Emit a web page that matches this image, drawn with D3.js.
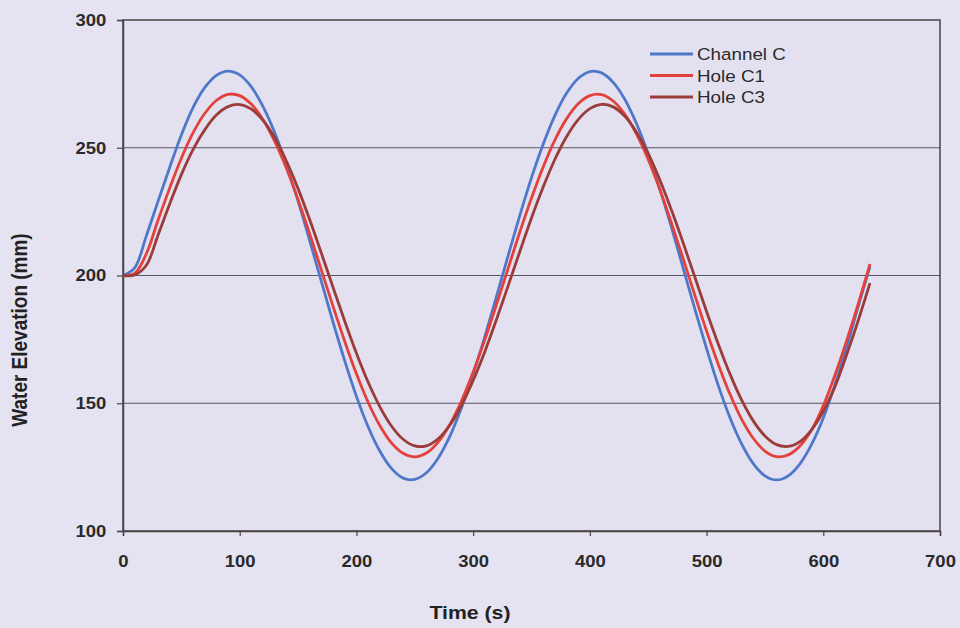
<!DOCTYPE html>
<html><head><meta charset="utf-8">
<script src="https://cdn.jsdelivr.net/npm/d3@7"></script>
<style>
html,body{margin:0;padding:0;background:#e5e3f1;}
svg{display:block;}
text{font-family:"Liberation Sans",Arial,sans-serif;}
</style></head>
<body>
<svg id="chart" width="960" height="628"></svg>
<script>
const time = d3.range(0, 641, 10);
const channelC = [200,203,215.5,229,242.3,255.0,265.7,273.5,278.3,280,278.5,273.8,266.1,255.9,243.3,229.1,213.6,197.6,181.7,166.6,152.7,140.8,131.3,124.5,120.7,120.2,122.8,128.5,137.0,148.2,161.4,176.1,191.8,207.8,223.5,238.3,251.4,262.6,271.3,277.1,279.8,279.3,275.6,268.9,259.4,247.6,233.8,218.7,202.8,186.8,171.4,157.0,144.4,134.1,126.4,121.6,120.0,121.6,126.3,133.9,144.2,157.3,172.0,188.0,203.5];
const holeC1 = [200,200.8,208.5,221.6,234.2,245.9,255.8,263.4,268.5,270.9,270.4,267.0,261.0,252.5,242.0,229.7,216.3,202.1,187.9,174.2,161.5,150.4,141.3,134.5,130.4,129.0,130.5,134.8,141.7,150.9,162.2,174.9,188.6,202.8,217.0,230.3,242.5,253.0,261.3,267.2,270.4,270.8,268.3,263.1,255.3,245.4,233.6,220.4,206.5,192.2,178.3,165.3,153.6,143.8,136.3,131.3,129.1,129.8,133.3,139.6,149.0,161.0,174.5,189.0,204.5];
const holeC3 = [200,200.2,204.0,215.8,228.0,239.5,249.3,257.0,262.8,266.1,266.9,265.1,260.7,253.9,244.8,234.0,221.8,208.7,195.3,182.1,169.6,158.3,148.7,141.1,135.9,133.3,133.3,136.1,141.4,149.1,158.9,170.2,182.8,196.0,209.4,222.5,234.6,245.4,254.3,261.0,265.3,267.0,266.0,262.3,256.1,247.7,237.4,225.5,212.7,199.3,185.9,173.2,161.5,151.3,143.1,137.2,133.8,133.1,135.0,139.6,146.8,156.5,169.0,182.5,197.0];
const seriesNames = ["Channel C","Hole C1","Hole C3"];
const seriesColors = ["#4f78c8","#e4413c","#9c3c3a"];
const xTicks = [0,100,200,300,400,500,600,700];
const yTicks = [100,150,200,250,300];

const svg = d3.select("#chart");
const m = {left:123, right:20, top:20, bottom:97};
const W = 960, H = 628;
const SX = 1.12; // horizontal stretch of the lettering
const x = d3.scaleLinear().domain([0,700]).range([m.left, W - m.right]);
const y = d3.scaleLinear().domain([100,300]).range([H - m.bottom, m.top]);

svg.append("rect").attr("x",0).attr("y",0).attr("width",W).attr("height",H).attr("fill","#e5e3f1");
svg.append("rect").attr("x",x(0)).attr("y",y(300)).attr("width",x(700)-x(0)).attr("height",y(100)-y(300)).attr("fill","#e3e1f0");

// gridlines
svg.append("g").selectAll("line").data(yTicks.filter(d=>d>100 && d<300)).join("line")
  .attr("x1",x(0)).attr("x2",x(700)).attr("y1",d=>y(d)).attr("y2",d=>y(d))
  .attr("stroke","#5a5560").attr("stroke-width",1.2);

// frame
svg.append("rect").attr("x",x(0)).attr("y",y(300)).attr("width",x(700)-x(0)).attr("height",y(100)-y(300))
  .attr("fill","none").attr("stroke","#4a4246").attr("stroke-width",1.5);

const yAxis = svg.append("g").attr("transform",`translate(${x(0)},0)`)
  .call(d3.axisLeft(y).tickValues(yTicks).tickSize(6).tickPadding(9));
const xAxis = svg.append("g").attr("transform",`translate(0,${y(100)})`)
  .call(d3.axisBottom(x).tickValues(xTicks).tickSize(5).tickPadding(19));
[yAxis,xAxis].forEach(a=>{
  a.select(".domain").attr("stroke","#4a4246").attr("stroke-width",1.5);
  a.selectAll(".tick line").attr("stroke","#4a4246").attr("stroke-width",1.2);
  a.selectAll(".tick text").attr("fill","#2a2a2a").style("font-size","16.5px").style("font-weight","bold")
   .style("font-family","'Liberation Sans',Arial,sans-serif")
   .attr("transform",`scale(${SX},1)`);
});

const line = d3.line().x((d,i)=>x(time[i])).y(d=>y(d)).curve(d3.curveCatmullRom);
[channelC, holeC1, holeC3].forEach((s,i)=>{
  svg.append("path").datum(s).attr("d",line).attr("fill","none")
    .attr("stroke",seriesColors[i]).attr("stroke-width",2.8);
});

// legend
const lg = svg.append("g").attr("transform","translate(650,0)");
seriesNames.forEach((n,i)=>{
  const yy = 54 + i*21.5;
  lg.append("line").attr("x1",0).attr("x2",43).attr("y1",yy).attr("y2",yy)
    .attr("stroke",seriesColors[i]).attr("stroke-width",2.8);
  lg.append("text").attr("transform",`translate(47,${yy+6}) scale(1.14,1)`).text(n)
    .attr("fill","#2a2a2a").style("font-size","16.5px");
});

svg.append("text").attr("transform","translate(27,330) rotate(-90) scale(1,1.12)").attr("text-anchor","middle")
  .style("font-size","19px").style("font-weight","bold").attr("fill","#222").text("Water Elevation (mm)");
svg.append("text").attr("transform",`translate(470,619) scale(1.18,1)`).attr("text-anchor","middle")
  .style("font-size","18px").style("font-weight","bold").attr("fill","#222").text("Time (s)");
</script>
</body></html>
